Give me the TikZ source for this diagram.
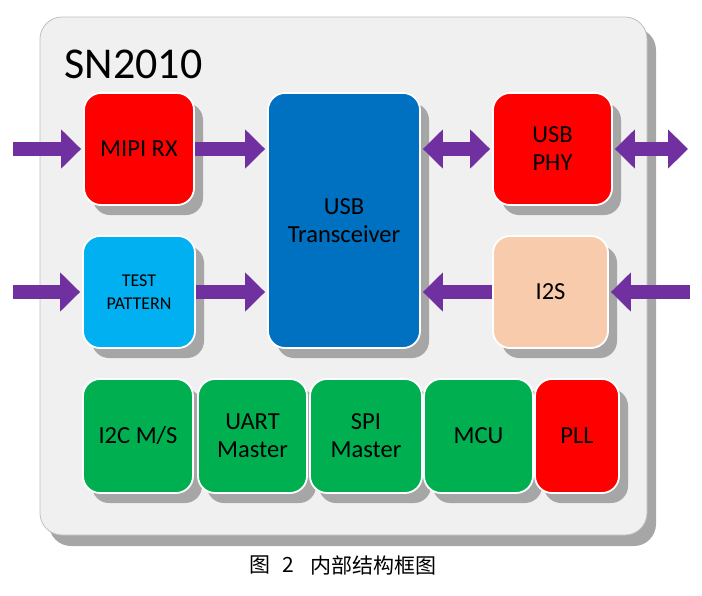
\documentclass[tikz,border=0pt]{standalone}
\usepackage{fontspec}
\setmainfont{Carlito}
\newfontfamily\cjk{Noto Sans CJK SC}
\usetikzlibrary{arrows.meta,shadows}
\definecolor{purp}{HTML}{7030A0}
\definecolor{shgray}{HTML}{A6A6A6}
\definecolor{chipfill}{HTML}{F0F0F0}
\definecolor{chipline}{HTML}{BFBFBF}
\definecolor{bred}{HTML}{FF0000}
\definecolor{bcyan}{HTML}{00B0F0}
\definecolor{bblue}{HTML}{0070C0}
\definecolor{bpeach}{HTML}{F8CBAD}
\definecolor{bgreen}{HTML}{00B050}
\begin{document}
\begin{tikzpicture}[x=1pt,y=-1pt,
  chip/.style={fill=chipfill, draw=chipline, line width=0.8pt, rounded corners=22pt,
    minimum width=607pt, minimum height=518pt, inner sep=0pt,
    drop shadow={shadow xshift=9pt, shadow yshift=-11pt, fill=shgray, opacity=1}},
  blk/.style={draw=white, line width=1.8pt, rounded corners=17pt, inner sep=0pt,
    align=center, text=black, font=\fontsize{24.5}{28}\selectfont,
    drop shadow={shadow xshift=9pt, shadow yshift=-10pt, fill=shgray, opacity=1}},
  conn/.style={draw=purp, line width=14pt, -{Triangle[width=38pt,length=20pt]}, shorten >=2pt},
  dconn/.style={draw=purp, line width=14pt, {Triangle[width=38pt,length=20pt]}-{Triangle[width=38pt,length=20pt]}, shorten >=2pt, shorten <=2pt}
]
\useasboundingbox (0,0) rectangle (702,595);

\node[chip] (chip) at (343.5,276) {};
\node[anchor=base west, font=\fontsize{44}{50}\selectfont] (title) at (61,78) {SN2010};

\node[blk, fill=bred, minimum width=110pt, minimum height=112pt] (mipi) at (139,149) {MIPI RX};
\node[blk, fill=bcyan, minimum width=112pt, minimum height=112pt, font=\fontsize{18}{23}\selectfont] (test) at (139,292) {TEST\\PATTERN};
\node[blk, fill=bblue, minimum width=152pt, minimum height=255pt] (usb) at (344,220.5) {USB\\Transceiver};
\node[blk, fill=bred, minimum width=119pt, minimum height=112pt] (phy) at (552.5,149) {USB\\PHY};
\node[blk, fill=bpeach, minimum width=115pt, minimum height=112pt] (i2s) at (550.5,292) {I2S};

\node[blk, fill=bgreen, minimum width=110pt, minimum height=114pt] (i2c) at (138,436) {I2C M/S};
\node[blk, fill=bgreen, minimum width=109pt, minimum height=114pt] (uart) at (252.5,436) {UART\\Master};
\node[blk, fill=bgreen, minimum width=112pt, minimum height=114pt] (spi) at (366,436) {SPI\\Master};
\node[blk, fill=bgreen, minimum width=109pt, minimum height=114pt] (mcu) at (478.5,436) {MCU};
\node[blk, fill=bred, minimum width=84pt, minimum height=114pt] (pll) at (577,436) {PLL};

\coordinate (inA) at (13,149);
\coordinate (inB) at (13,292);
\coordinate (outC) at (690,149);
\coordinate (inD) at (690,292);

\draw[conn] (inA) -- (mipi.west);
\draw[conn] (mipi.east) -- (usb.west |- mipi.east);
\draw[conn] (inB) -- (test.west);
\draw[conn] (test.east) -- (usb.west |- test.east);
\draw[dconn] (usb.east |- phy.west) -- (phy.west);
\draw[dconn] (phy.east) -- (outC);
\draw[conn] (i2s.west) -- (usb.east |- i2s.west);
\draw[conn] (inD) -- (i2s.east);

\node[font=\cjk\fontsize{21}{24}\selectfont] (cap1) at (260,565) {图};
\node[font=\cjk\fontsize{21}{24}\selectfont] (cap2) at (288,565) {2};
\node[font=\cjk\fontsize{21}{24}\selectfont] (cap3) at (373.5,565) {内部结构框图};
\end{tikzpicture}
\end{document}
